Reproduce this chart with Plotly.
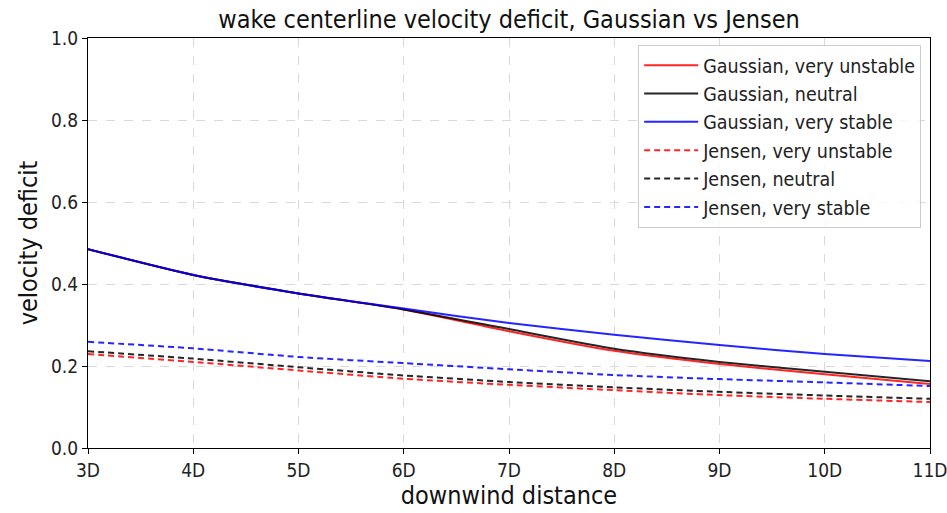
import plotly.graph_objects as go

x_d = [3, 4, 5, 6, 7, 8, 9, 10, 11]
tick_labels = ["3D", "4D", "5D", "6D", "7D", "8D", "9D", "10D", "11D"]

gauss_unstable = [0.485, 0.422, 0.377, 0.338, 0.285, 0.237, 0.205, 0.180, 0.156]
gauss_neutral = [0.485, 0.422, 0.377, 0.338, 0.290, 0.242, 0.210, 0.186, 0.163]
gauss_stable = [0.485, 0.422, 0.377, 0.340, 0.305, 0.276, 0.251, 0.229, 0.212]

jensen_unstable = [0.229, 0.210, 0.189, 0.169, 0.154, 0.141, 0.129, 0.120, 0.112]
jensen_neutral = [0.236, 0.218, 0.197, 0.177, 0.161, 0.148, 0.137, 0.128, 0.120]
jensen_stable = [0.259, 0.243, 0.222, 0.207, 0.192, 0.178, 0.168, 0.160, 0.151]

series = [
    ("Gaussian, very unstable", gauss_unstable, "#ff0000", "solid"),
    ("Gaussian, neutral", gauss_neutral, "#000000", "solid"),
    ("Gaussian, very stable", gauss_stable, "#0000ff", "solid"),
    ("Jensen, very unstable", jensen_unstable, "#ff0000", "dash"),
    ("Jensen, neutral", jensen_neutral, "#000000", "dash"),
    ("Jensen, very stable", jensen_stable, "#0000ff", "dash"),
]

fig = go.Figure()
for i, (name, vals, color, dash) in enumerate(series):
    fig.add_trace(go.Scatter(
        x=x_d, y=vals, name=name, mode="lines", legendgroup="g%d" % i,
        line=dict(color=color, width=2, dash="6px,4px" if dash == "dash" else "solid",
                  shape="spline", smoothing=0.6),
        opacity=0.85,
    ))

font = "DejaVu Sans Condensed, DejaVu Sans, sans-serif"
fig.update_layout(
    width=947, height=513,
    margin=dict(l=88, r=17, t=38, b=65),
    paper_bgcolor="white", plot_bgcolor="white",
    font=dict(family=font, color="#222222", size=19),
    title=dict(text="wake centerline velocity deficit, Gaussian vs Jensen",
               x=0.5, xref="paper", xanchor="center", y=0.963, yanchor="middle",
               font=dict(size=25, family=font, color="#111111")),
    showlegend=True,
    legend=dict(x=0.9895, y=0.983, xanchor="right", yanchor="top",
                bgcolor="rgba(255,255,255,0.8)", bordercolor="#cccccc", borderwidth=1,
                font=dict(size=19.5, family=font, color="#222222"), tracegroupgap=0,
                itemwidth=54),
)
fig.update_xaxes(
    range=[3, 11], tickvals=x_d, ticktext=tick_labels,
    showgrid=True, gridcolor="#d9d9d9", griddash="dash", gridwidth=1,
    showline=True, linecolor="black", linewidth=1, mirror=True,
    ticks="outside", ticklen=5, tickcolor="black", automargin=False,
    ticklabeloverflow="allow",
    tickfont=dict(size=19, family=font),
    title=dict(text="downwind distance", font=dict(size=25, family=font, color="#111111"), standoff=4),
    zeroline=False,
)
fig.update_yaxes(
    range=[0, 1], tickvals=[0, 0.2, 0.4, 0.6, 0.8, 1.0],
    ticktext=["0.0", "0.2", "0.4", "0.6", "0.8", "1.0"],
    showgrid=True, gridcolor="#d9d9d9", griddash="dash", gridwidth=1,
    showline=True, linecolor="black", linewidth=1, mirror=True,
    ticks="outside", ticklen=5, tickcolor="black", automargin=False,
    ticklabeloverflow="allow",
    tickfont=dict(size=19, family=font),
    title=dict(text="velocity deficit", font=dict(size=25, family=font, color="#111111"), standoff=6),
    zeroline=False,
)

fig.write_html("out.html")
